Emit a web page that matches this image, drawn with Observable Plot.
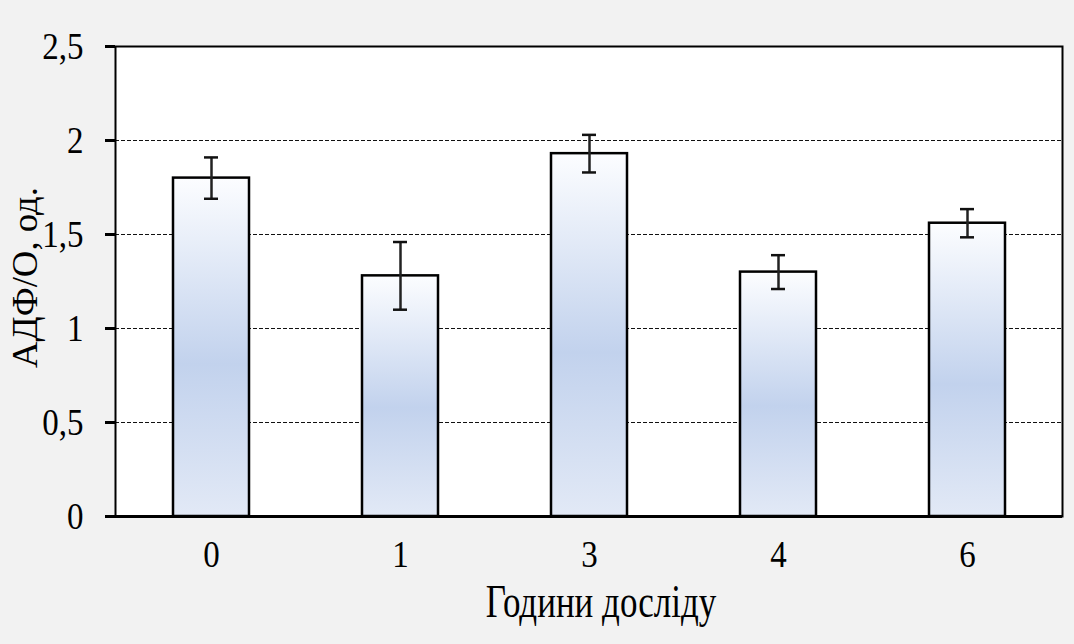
<!DOCTYPE html>
<html>
<head>
<meta charset="utf-8">
<script src="https://cdn.jsdelivr.net/npm/d3@7"></script>
<script src="https://cdn.jsdelivr.net/npm/@observablehq/plot@0.6"></script>
<style>
  html, body { margin: 0; padding: 0; background: #f2f2f2; }
  #chart svg { display: block; font-family: "Liberation Serif", "Times New Roman", serif; }
</style>
</head>
<body>
<div id="chart"></div>
<script>
const hours = ["0", "1", "3", "4", "6"];
const means = [1.80, 1.28, 1.93, 1.30, 1.56];
const errors = [0.11, 0.18, 0.10, 0.09, 0.075];
const yTicks = [0, 0.5, 1, 1.5, 2, 2.5];
const gridValues = [0.5, 1, 1.5, 2];
const xTitle = "Години досліду";
const yTitle = "АДФ/О, од.";

const data = hours.map((h, i) => ({hour: h, mean: means[i], lo: means[i] - errors[i], hi: means[i] + errors[i]}));

const defs = () => {
  const d = d3.create("svg:defs");
  const g = d.append("linearGradient").attr("id", "barGrad").attr("x1", 0).attr("y1", 0).attr("x2", 0).attr("y2", 1);
  g.append("stop").attr("offset", "0%").attr("stop-color", "#fcfdff");
  g.append("stop").attr("offset", "55%").attr("stop-color", "#c2d2ed");
  g.append("stop").attr("offset", "100%").attr("stop-color", "#e2e9f6");
  return d.node();
};

const chart = Plot.plot({
  width: 1074,
  height: 644,
  marginLeft: 115,
  marginRight: 12,
  marginTop: 46,
  marginBottom: 128,
  style: {background: "transparent", fontFamily: "Liberation Serif, serif"},
  x: {type: "band", domain: hours, paddingInner: 0.6, paddingOuter: 0.3},
  y: {domain: [0, 2.5]},
  marks: [
    defs,
    Plot.frame({fill: "white"}),
    Plot.ruleY(gridValues, {stroke: "#111", strokeWidth: 1, strokeDasharray: "4,2"}),
    Plot.barY(data, {x: "hour", y: "mean", fill: "url(#barGrad)", stroke: "black", strokeWidth: 2.5}),
    Plot.ruleX(data, {x: "hour", y1: "lo", y2: "hi", stroke: "#222", strokeWidth: 2.5}),
    Plot.tickY(data, {x: "hour", y: "lo", stroke: "#111", strokeWidth: 2.5, insetLeft: 31, insetRight: 31}),
    Plot.tickY(data, {x: "hour", y: "hi", stroke: "#111", strokeWidth: 2.5, insetLeft: 31, insetRight: 31}),
    Plot.frame({stroke: "black", strokeWidth: 2}),
    Plot.ruleY([0], {stroke: "black", strokeWidth: 3}),
    Plot.axisY({ticks: yTicks, tickFormat: d => String(d).replace(".", ","), tickSize: 10, strokeWidth: 3, tickPadding: 22, fontSize: 33, label: null, color: "#000", className: "tick-y"}),
    Plot.axisX({tickSize: 0, tickPadding: 25, fontSize: 33, label: null, color: "#000", className: "tick-x"}),
    Plot.text([xTitle], {frameAnchor: "bottom", dy: 97, dx: 12, fontSize: 35, fill: "#000", className: "title-x"}),
    Plot.text([yTitle], {frameAnchor: "left", textAnchor: "middle", rotate: -90, dx: -90, dy: -4, fontSize: 35, fill: "#000", className: "title-y"})
  ]
});
document.getElementById("chart").appendChild(chart);

// Stretch the text glyphs vertically (as in the reference rendering)
function stretch(selector, sx, sy) {
  chart.querySelectorAll(selector + " text").forEach(t => {
    const b = t.getBBox();
    const cx = b.x + b.width / 2, cy = b.y + b.height / 2;
    const old = t.getAttribute("transform") || "";
    t.setAttribute("transform", `${old} translate(${cx},${cy}) scale(${sx},${sy}) translate(${-cx},${-cy})`);
  });
}
stretch(".tick-y", 1, 1.15);
stretch(".tick-x", 1, 1.15);
stretch(".title-x", 1, 1.3);
stretch(".title-y", 1.05, 1);
</script>
</body>
</html>
